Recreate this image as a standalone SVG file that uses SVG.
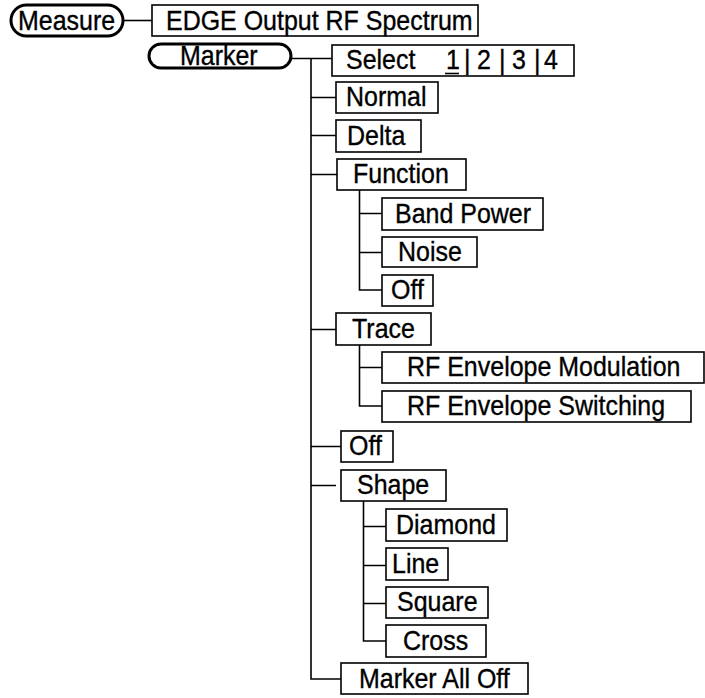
<svg xmlns="http://www.w3.org/2000/svg" width="705" height="698" viewBox="0 0 705 698">
<style>
text{font-family:"Liberation Sans",Arial,sans-serif;font-size:27px;fill:#000;stroke:#000;stroke-width:0.35}
.box{fill:#fff;stroke:#000;stroke-width:1.6}
.pill{fill:#fff;stroke:#000;stroke-width:3}
.c{fill:none;stroke:#000;stroke-width:1.6}
</style>
<rect width="705" height="698" fill="#fff"/>
<g id="connectors">
<path class="c" d="M123 20.5H152"/>
<path class="c" d="M291 58.5H332M311 58.5V679H341"/>
<path class="c" d="M311 97.5H336M311 135.5H336M311 174.5H337M311 329.5H336M311 446.5H341M311 485.5H336"/>
<path class="c" d="M359.5 190V290H382M359.5 213.5H382M359.5 252.5H382"/>
<path class="c" d="M359.5 345V406H382M359.5 367.5H382"/>
<path class="c" d="M363.5 501V641H386M363.5 526.5H386M363.5 565.5H386M363.5 603.5H386"/>
</g>
<g id="measure"><rect class="pill" x="11" y="5" width="112" height="31" rx="15.5"/><text transform="translate(18 30) scale(0.925 1)">Measure</text></g>
<g id="edge"><rect class="box" x="152" y="5" width="326" height="31"/><text transform="translate(166 30) scale(0.925 1)">EDGE Output RF Spectrum</text></g>
<g id="marker"><rect class="pill" x="149" y="44" width="142" height="24" rx="12"/><text transform="translate(180 65) scale(0.925 1)">Marker</text></g>
<g id="select"><rect class="box" x="332" y="45" width="242" height="31"/>
<text transform="translate(346 69) scale(0.925 1)">Select</text>
<text transform="translate(446 69) scale(0.925 1)">1</text>
<text transform="translate(464 69) scale(0.925 1)">|</text>
<text transform="translate(477 69) scale(0.925 1)">2</text>
<text transform="translate(499 69) scale(0.925 1)">|</text>
<text transform="translate(512 69) scale(0.925 1)">3</text>
<text transform="translate(534 69) scale(0.925 1)">|</text>
<text transform="translate(544 69) scale(0.925 1)">4</text>
<path class="c" d="M445 73.5H459"/></g>
<g id="normal"><rect class="box" x="336" y="82" width="102" height="31"/><text transform="translate(346 106) scale(0.925 1)">Normal</text></g>
<g id="delta"><rect class="box" x="336" y="120" width="85" height="32"/><text transform="translate(347 145) scale(0.925 1)">Delta</text></g>
<g id="function"><rect class="box" x="337" y="159" width="129" height="31"/><text transform="translate(353 183) scale(0.925 1)">Function</text></g>
<g id="bandpower"><rect class="box" x="382" y="198" width="161" height="32"/><text transform="translate(395 222.5) scale(0.925 1)">Band Power</text></g>
<g id="noise"><rect class="box" x="382" y="237" width="95" height="30"/><text transform="translate(398 260.5) scale(0.925 1)">Noise</text></g>
<g id="off1"><rect class="box" x="382" y="275" width="51" height="31"/><text transform="translate(391 299) scale(0.925 1)">Off</text></g>
<g id="trace"><rect class="box" x="336" y="313" width="95" height="32"/><text transform="translate(352 337.5) scale(0.925 1)">Trace</text></g>
<g id="rfmod"><rect class="box" x="382" y="352" width="322" height="31"/><text transform="translate(407 376) scale(0.925 1)">RF Envelope Modulation</text></g>
<g id="rfsw"><rect class="box" x="382" y="391" width="309" height="31"/><text transform="translate(407 415) scale(0.925 1)">RF Envelope Switching</text></g>
<g id="off2"><rect class="box" x="341" y="431" width="52" height="31"/><text transform="translate(349 455) scale(0.925 1)">Off</text></g>
<g id="shape"><rect class="box" x="341" y="470" width="105" height="31"/><text transform="translate(357 494) scale(0.925 1)">Shape</text></g>
<g id="diamond"><rect class="box" x="386" y="509" width="121" height="32"/><text transform="translate(396 533.5) scale(0.925 1)">Diamond</text></g>
<g id="line"><rect class="box" x="386" y="548" width="62" height="32"/><text transform="translate(392 572.5) scale(0.925 1)">Line</text></g>
<g id="square"><rect class="box" x="386" y="587" width="102" height="31"/><text transform="translate(397 611) scale(0.925 1)">Square</text></g>
<g id="cross"><rect class="box" x="386" y="625" width="100" height="32"/><text transform="translate(403 649.5) scale(0.925 1)">Cross</text></g>
<g id="markeralloff"><rect class="box" x="341" y="663" width="187" height="31"/><text transform="translate(359 687.5) scale(0.925 1)">Marker All Off</text></g>
</svg>
